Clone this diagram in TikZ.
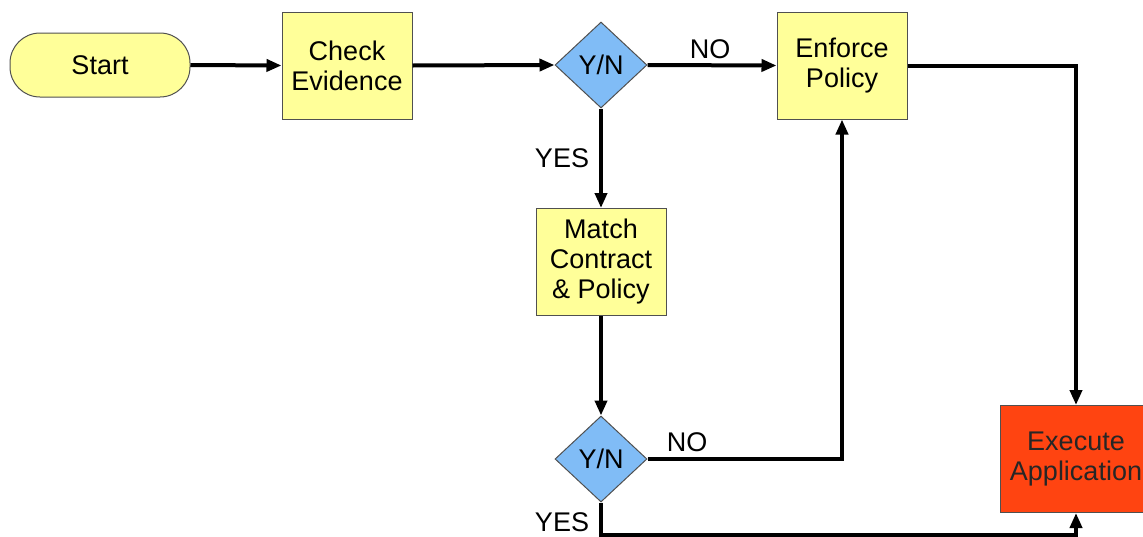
\documentclass[tikz,border=0pt]{standalone}
\usepackage{fontspec}
\setmainfont{Liberation Sans}
\usetikzlibrary{shapes.geometric,arrows.meta}
\definecolor{boxyellow}{HTML}{FFFF99}
\definecolor{diamblue}{HTML}{80BCF6}
\definecolor{execred}{HTML}{FF4411}
\definecolor{edgegray}{HTML}{505050}
\begin{document}
\begin{tikzpicture}[x=1pt,y=-1pt,
  every node/.style={font=\fontsize{27}{30}\selectfont},
  procbox/.style={draw=edgegray,line width=1pt,fill=boxyellow,minimum width=130pt,minimum height=107pt,align=center,inner sep=0pt},
  startbox/.style={draw=edgegray,line width=1pt,fill=boxyellow,minimum width=180pt,minimum height=64pt,rounded corners=30pt,inner sep=0pt},
  decision/.style={diamond,draw=edgegray,line width=1pt,fill=diamblue,minimum width=92pt,minimum height=86pt,inner sep=0pt},
  flow/.style={line width=4pt,-{Triangle[length=15pt,width=12pt]}},
  lbl/.style={inner sep=0pt}]
\useasboundingbox (0,0) rectangle (1143,536);
\node[startbox] (start) at (100,65) {Start};
\node[procbox] (check) at (347,65.5) {Check\\Evidence};
\node[decision] (d1) at (601,65) {Y/N};
\node[procbox] (enforce) at (842,65.5) {Enforce\\Policy};
\node[procbox] (match) at (601,262) {Match\\Contract\\\& Policy};
\node[decision] (d2) at (601,459) {Y/N};
\node[procbox,fill=execred,draw=edgegray,minimum width=152pt,text=black!85] (exec) at (1076,459) {Execute\\Application};
\node[lbl] (no1) at (710,49) {NO};
\node[lbl] (yes1) at (562,158) {YES};
\node[lbl] (no2) at (687,442) {NO};
\node[lbl] (yes2) at (562,522) {YES};
\draw[flow] (start.east) -- (check.west);
\draw[flow] (check.east) -- (d1.west);
\draw[flow] (d1.east) -- (enforce.west);
\draw[flow] (d1.south) -- (match.north);
\draw[flow] (match.south) -- (d2.north);
\draw[flow] (d2.east) -| (enforce.south);
\draw[flow] (enforce.east) -| (exec.north);
\draw[flow] (d2.south) -- ++(0,32) -| (exec.south);
\end{tikzpicture}
\end{document}
